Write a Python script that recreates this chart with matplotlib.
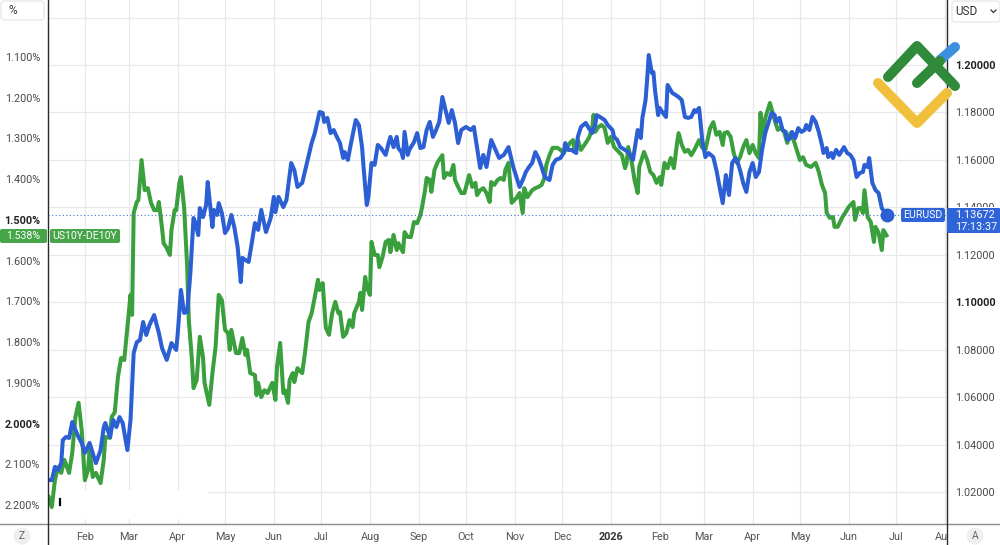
import matplotlib
matplotlib.use('Agg')
import numpy as np
import pandas as pd
import matplotlib.pyplot as plt
from matplotlib.patches import FancyBboxPatch, Ellipse, Rectangle
from matplotlib.lines import Line2D
from matplotlib.transforms import Bbox, TransformedBbox

plt.rcParams['font.family'] = ['Roboto', 'DejaVu Sans']

# ---- data ----
# days counted from 2025-01-01
eur_days = [8, 10, 12, 14, 16, 17, 19, 21, 23, 25, 27, 29, 31, 34, 36, 38, 41, 43, 44, 47,
            49, 51, 53, 55, 58, 60, 62, 64, 66, 68, 70, 72, 75, 78, 80, 83, 86, 89, 90, 92,
            94, 96, 98, 100, 101, 103, 104, 106, 108, 109, 112, 113, 115, 116, 118, 120, 122, 124, 126, 128,
            130, 131, 133, 135, 137, 139, 141, 143, 146, 149,
            151, 152, 154, 157, 159, 162, 164, 166, 169, 172, 175, 177, 180, 182, 183, 185, 187, 189, 191, 193,
            195, 196, 198, 200, 203, 205, 207, 208, 210, 211, 213, 215, 217, 219, 222, 224, 225, 227, 229, 230,
            232, 233, 234, 236, 237, 240, 242, 244, 246, 248, 250, 252, 254, 256, 258, 260, 262, 264, 266, 268,
            270, 273, 276, 278, 280, 282, 284, 286, 289, 291, 294,
            297, 300, 303, 305, 307, 309, 311, 313, 315, 317, 319, 321, 323, 326, 328, 330, 333, 335, 336, 338,
            340, 343, 344, 346, 349, 351, 353, 355, 356, 359, 361, 363, 366, 367, 369, 371, 374, 376, 378, 379,
            381, 382, 384, 385, 387, 388, 389, 391, 392, 393, 395, 396, 398, 400, 401, 404, 406, 408, 410, 412,
            414, 416, 418, 419, 421,
            423, 425, 427, 430, 432, 434, 436, 438, 440, 442, 444, 445, 447, 449, 451, 453, 455, 457, 459, 461,
            463, 465, 467, 469, 470, 472, 474, 476, 477, 479, 480, 482, 484, 486, 488, 489, 491, 493, 495, 497,
            499, 500, 502, 503, 505, 506, 508, 510, 513, 515, 517, 519, 521, 523, 525, 526, 528, 529, 531, 533,
            535, 537, 540]
eurusd = [1.0251, 1.0250, 1.0306, 1.0293, 1.0322, 1.0419, 1.0432, 1.0428, 1.0495, 1.0462,
          1.0432, 1.0407, 1.0365, 1.0407, 1.0365, 1.0322, 1.0377, 1.0474, 1.0491, 1.0432,
          1.0504, 1.0474, 1.0516, 1.0491, 1.0377, 1.0504, 1.0786, 1.0832, 1.0841, 1.0917,
          1.0862, 1.0904, 1.0946, 1.0870, 1.0807, 1.0757, 1.0828, 1.0799, 1.0870, 1.1052,
          1.0955, 1.0959, 1.1123, 1.1355, 1.1338, 1.1283, 1.1397, 1.1359, 1.1410, 1.1507,
          1.1317, 1.1389, 1.1368, 1.1418, 1.1376, 1.1292, 1.1313, 1.1368, 1.1313, 1.1233,
          1.1085, 1.1187, 1.1178, 1.1170, 1.1250, 1.1334, 1.1305, 1.1389, 1.1296, 1.1355,
          1.1444, 1.1380, 1.1444, 1.1401, 1.1431, 1.1587, 1.1557, 1.1486, 1.1503, 1.1587,
          1.1671, 1.1713, 1.1802, 1.1798, 1.1760, 1.1777, 1.1713, 1.1726, 1.1697, 1.1671,
          1.1608, 1.1633, 1.1600, 1.1671, 1.1768, 1.1747, 1.1654, 1.1566, 1.1410, 1.1444,
          1.1587, 1.1579, 1.1663, 1.1650, 1.1621, 1.1675, 1.1697, 1.1654, 1.1697, 1.1650,
          1.1633, 1.1608, 1.1718, 1.1621, 1.1642, 1.1675, 1.1713, 1.1650, 1.1654, 1.1726,
          1.1760, 1.1697, 1.1726, 1.1760, 1.1865, 1.1810, 1.1756, 1.1810, 1.1756, 1.1671,
          1.1726, 1.1739, 1.1726, 1.1739, 1.1654, 1.1566, 1.1621, 1.1570, 1.1684, 1.1654,
          1.1608,
          1.1621, 1.1654, 1.1570, 1.1528, 1.1486, 1.1515, 1.1549, 1.1570, 1.1587, 1.1633,
          1.1608, 1.1570, 1.1528, 1.1515, 1.1579, 1.1600, 1.1608, 1.1629, 1.1671, 1.1642,
          1.1642, 1.1629, 1.1697, 1.1739, 1.1756, 1.1734, 1.1713, 1.1747, 1.1789, 1.1777,
          1.1768, 1.1747, 1.1726, 1.1697, 1.1684, 1.1654, 1.1642, 1.1633, 1.1612, 1.1600,
          1.1684, 1.1726, 1.1692, 1.1777, 1.1852, 1.1937, 1.2042, 1.1966, 1.1970, 1.1895,
          1.1789, 1.1819, 1.1798, 1.1781, 1.1916, 1.1882, 1.1874, 1.1865, 1.1852, 1.1781,
          1.1777, 1.1781, 1.1810, 1.1802, 1.1819,
          1.1684, 1.1612, 1.1629, 1.1612, 1.1557, 1.1486, 1.1418, 1.1536, 1.1452, 1.1587,
          1.1608, 1.1600, 1.1557, 1.1503, 1.1465, 1.1549, 1.1587, 1.1528, 1.1549, 1.1642,
          1.1713, 1.1756, 1.1798, 1.1789, 1.1760, 1.1777, 1.1726, 1.1718, 1.1684, 1.1692,
          1.1718, 1.1692, 1.1734, 1.1718, 1.1726, 1.1747, 1.1726, 1.1781, 1.1760, 1.1718,
          1.1663, 1.1629, 1.1650, 1.1612, 1.1629, 1.1608, 1.1642, 1.1621, 1.1654, 1.1629,
          1.1621, 1.1600, 1.1528, 1.1545, 1.1549, 1.1579, 1.1570, 1.1608, 1.1503, 1.1473,
          1.1460, 1.1397, 1.13672]

spr_days = [8, 10, 12, 14, 16, 18, 21, 23, 25, 27, 29, 31, 33, 34, 36, 38, 41, 43, 44, 47,
            48, 50, 52, 54, 56, 58, 60, 61, 62, 64, 65, 67, 69, 71, 73, 75, 77, 78, 80, 81,
            83, 85, 86, 88, 89, 91, 92, 94, 96, 97, 99, 100, 102, 104, 106, 107, 110, 112, 114, 116,
            118, 120, 122, 123, 124, 127, 129, 131, 133, 134, 136, 139, 140, 141, 143, 145, 147, 150, 152, 153,
            155, 157, 158, 160, 161, 163, 164, 166, 169, 171, 173, 175, 177, 179, 180, 182, 184, 186, 188, 190,
            192, 193, 195, 197, 199, 201, 202, 205, 206, 207, 209, 210, 212, 213, 215, 217, 218, 220, 222, 224,
            225, 227, 229, 230, 233, 234, 236, 238, 240, 242, 244, 245, 247, 248, 250, 251, 253, 255, 258, 259,
            261, 263, 265, 266, 268, 270, 272, 275, 277, 279, 280, 282, 284, 286, 288, 289, 291, 293, 295,
            297, 298, 300, 302, 305, 307, 309, 310, 312, 315, 317, 319, 321, 323, 324, 326, 328, 331, 333, 335,
            337, 339, 341, 342, 344, 346, 349, 351, 353, 354, 355, 357, 359, 361, 363, 365, 367, 370, 372, 374,
            375, 376, 378, 380, 382, 383, 386, 388, 390, 392, 394, 396, 397, 399, 401, 403, 405, 407, 408, 410,
            412, 414, 416, 418, 421,
            423, 425, 428, 430, 432, 434, 436, 437, 439, 441, 443, 445, 447, 449, 451, 453, 455, 457, 459, 460,
            461, 463, 465, 466, 469, 471, 473, 475, 477, 479, 481, 483, 485, 487, 489, 492, 495, 497, 499, 501,
            502, 504, 506, 507, 509, 512, 514, 516, 519, 520, 522, 524, 525, 526, 528, 530, 532, 533, 535, 537,
            538, 540]
spread = [2.180, 2.205, 2.139, 2.107, 2.121, 2.089, 2.121, 2.072, 1.984, 1.949,
          2.016, 2.139, 2.114, 2.065, 2.131, 2.121, 2.146, 2.089, 2.033, 2.035,
          1.984, 1.972, 1.886, 1.839, 1.844, 1.763, 1.684, 1.733, 1.483, 1.456,
          1.451, 1.353, 1.427, 1.422, 1.458, 1.476, 1.476, 1.456, 1.520, 1.557,
          1.569, 1.586, 1.525, 1.476, 1.476, 1.409, 1.395, 1.468, 1.616, 1.746,
          1.844, 1.913, 1.893, 1.787, 1.837, 1.900, 1.954, 1.876, 1.812, 1.684,
          1.697, 1.770, 1.778, 1.819, 1.770, 1.827, 1.827, 1.790, 1.832, 1.819,
          1.876, 1.881, 1.930, 1.900, 1.935, 1.918, 1.925, 1.900, 1.942, 1.861,
          1.802, 1.925, 1.918, 1.949, 1.893, 1.876, 1.898, 1.864, 1.876, 1.819,
          1.751, 1.729, 1.689, 1.647, 1.672, 1.655, 1.765, 1.782, 1.729, 1.701,
          1.729, 1.726, 1.787, 1.778, 1.746, 1.763, 1.729, 1.701, 1.679, 1.721,
          1.640, 1.665, 1.684, 1.554, 1.586, 1.586, 1.616, 1.591, 1.554, 1.549,
          1.579, 1.537, 1.574, 1.557, 1.579, 1.530, 1.542, 1.542, 1.505, 1.508,
          1.488, 1.471, 1.427, 1.397, 1.402, 1.431, 1.377, 1.358, 1.341, 1.397,
          1.385, 1.390, 1.365, 1.402, 1.419, 1.434, 1.434, 1.390, 1.419, 1.409,
          1.439, 1.427, 1.422, 1.434, 1.456, 1.407, 1.414, 1.402, 1.397,
          1.402, 1.377, 1.360, 1.458, 1.446, 1.434, 1.483, 1.422, 1.444, 1.427,
          1.422, 1.419, 1.414, 1.395, 1.365, 1.341, 1.323, 1.323, 1.328, 1.336,
          1.323, 1.311, 1.304, 1.333, 1.304, 1.328, 1.311, 1.299, 1.279, 1.242,
          1.284, 1.272, 1.267, 1.274, 1.311, 1.296, 1.321, 1.333, 1.341, 1.373,
          1.360, 1.321, 1.353, 1.402, 1.434, 1.370, 1.333, 1.353, 1.382, 1.390,
          1.409, 1.395, 1.414, 1.360, 1.373, 1.348, 1.373, 1.311, 1.287, 1.316,
          1.333, 1.328, 1.341, 1.328, 1.304,
          1.323, 1.328, 1.275, 1.260, 1.291, 1.284, 1.316, 1.287, 1.284, 1.296,
          1.336, 1.360, 1.346, 1.321, 1.304, 1.336, 1.316, 1.336, 1.348, 1.237,
          1.296, 1.250, 1.225, 1.213, 1.255, 1.279, 1.274, 1.284, 1.311, 1.287,
          1.304, 1.328, 1.353, 1.346, 1.365, 1.370, 1.360, 1.382, 1.414, 1.434,
          1.483, 1.495, 1.493, 1.517, 1.517, 1.493, 1.481, 1.468, 1.456, 1.500,
          1.471, 1.471, 1.483, 1.427, 1.493, 1.505, 1.554, 1.517, 1.532, 1.574,
          1.525, 1.538]

eur_ticks = [1.02, 1.04, 1.06, 1.08, 1.10, 1.12, 1.14, 1.16, 1.18, 1.20, 1.22]
spr_ticks = [1.1, 1.2, 1.3, 1.4, 1.5, 1.6, 1.7, 1.8, 1.9, 2.0, 2.1, 2.2]
month_labels = ['Feb', 'Mar', 'Apr', 'May', 'Jun', 'Jul', 'Aug', 'Sep', 'Oct', 'Nov', 'Dec',
                '2026', 'Feb', 'Mar', 'Apr', 'May', 'Jun', 'Jul', 'Aug']
last_eur = 1.13672
last_spr = 1.538

t0 = pd.Timestamp('2025-01-01')
eur_dates = t0 + pd.to_timedelta(eur_days, unit='D')
spr_dates = t0 + pd.to_timedelta(spr_days, unit='D')
months = pd.date_range('2025-02-01', '2026-08-01', freq='MS')

BLUE = '#2b5fd3'
GREEN = '#3a9f3d'
W, H = 1000, 545


def fx(x):
    return x / W


def fy(y):
    return 1 - y / H


fig = plt.figure(figsize=(10, 5.45), dpi=100)
ax = fig.add_axes([fx(48), fy(524), (947 - 48) / W, 524 / H])
ax2 = ax.twinx()
ax3 = ax.twinx()

xmin = t0 + pd.Timedelta(days=7.6)
xmax = t0 + pd.Timedelta(days=578.4)
ax.set_xlim(xmin, xmax)
ax.set_ylim(1.00653, 1.2274)
ax2.set_ylim(2.2465, 0.9601)
ax3.set_ylim(1.00653, 1.2274)

# grid + right axis (EURUSD)
ax.yaxis.tick_right()
ax.set_yticks(eur_ticks, ['' if v > 1.21 else f'{v:.5f}' for v in eur_ticks])
ax.set_xticks(months, month_labels)
ax.grid(True, color='#e8e8e8', lw=0.9)
ax.tick_params(axis='y', length=0, pad=5.6, labelsize=7.8, labelcolor='#4a4a4a')
ax.tick_params(axis='x', length=0, pad=6, labelsize=7.8, labelcolor='#555555')
for t in ax.get_yticklabels():
    if t.get_text() in ('1.20000', '1.10000'):
        t.set_fontweight('bold')
        t.set_color('#222222')
    if t.get_text() == '1.14000':
        # mostly hidden behind the price tag
        t.set_clip_box(TransformedBbox(Bbox.from_extents(0, fy(207), 1, 1), fig.transFigure))
        t.set_clip_on(True)
for t in ax.get_xticklabels():
    if t.get_text() == '2026':
        t.set_fontweight('bold')
        t.set_color('#333333')
aug = ax.get_xticklabels()[-1]
aug.set_clip_box(TransformedBbox(Bbox.from_extents(0, 0, fx(947), 1), fig.transFigure))
aug.set_clip_on(True)

# white patch in lower left
ax.add_patch(Rectangle((fx(48), fy(519)), (208 - 48) / W, 29 / H, transform=fig.transFigure,
                       facecolor='white', edgecolor='none', zorder=1.8))

# left axis (spread)
ax2.yaxis.tick_left()
ax2.set_yticks(spr_ticks, [f'{v:.3f}%' for v in spr_ticks])
ax2.tick_params(axis='y', length=0, pad=5.6, labelsize=7.8, labelcolor='#4a4a4a')
for t in ax2.get_yticklabels():
    if t.get_text() in ('1.500%', '2.000%'):
        t.set_fontweight('bold')
        t.set_color('#222222')
ax2.plot(spr_dates, spread, color=GREEN, lw=2.9, solid_joinstyle='round')

ax3.set_yticks([])
ax3.axhline(last_eur, color='#4a72d6', lw=0.8, ls=(0, (1, 2.2)))
ax3.plot(eur_dates, eurusd, color=BLUE, lw=2.9, solid_joinstyle='round')
ax3.plot(eur_dates[-1], eurusd[-1], 'o', color=BLUE, ms=9)

for a in (ax, ax2, ax3):
    for s in a.spines.values():
        s.set_visible(False)

# frame lines
fig.add_artist(Line2D([0, 1], [fy(524)] * 2, color='#8c8c8c', lw=1.0, transform=fig.transFigure))
fig.add_artist(Line2D([fx(48)] * 2, [0, 1], color='#2a2a2a', lw=1.0, transform=fig.transFigure))
fig.add_artist(Line2D([fx(947)] * 2, [0, 1], color='#2a2a2a', lw=1.0, transform=fig.transFigure))


def box(x0, y0, x1, y1, fc, ec='none', r=2):
    p = FancyBboxPatch((fx(x0), fy(y1)), (x1 - x0) / W, (y1 - y0) / H,
                       boxstyle=f'round,pad=0,rounding_size={r / W}', mutation_aspect=W / H,
                       facecolor=fc, edgecolor=ec, lw=0.8, transform=fig.transFigure, zorder=4)
    fig.add_artist(p)


# top corner selectors
box(1, 1, 44, 20, 'white', '#e3e3e3', 3)
fig.text(fx(8), fy(11), '%', fontsize=8.5, color='#333333', va='center', zorder=5)
box(952, 1, 1000, 22, 'white', '#e3e3e3', 3)
fig.text(fx(955), fy(11.5), 'USD', fontsize=8.5, color='#333333', va='center', zorder=5)
fig.add_artist(Line2D([fx(991), fx(993.5), fx(996)], [fy(10), fy(12.5), fy(10)], color='#333333',
                      lw=0.9, transform=fig.transFigure, zorder=5))

# series labels
box(0, 229, 47, 243, '#45a548')
fig.text(fx(23.5), fy(236), f'{last_spr:.3f}%', fontsize=7.6, color='white', ha='center', va='center', zorder=5)
box(50, 229, 120, 243, '#45a548')
fig.text(fx(85), fy(236), 'US10Y-DE10Y', fontsize=7.6, color='white', ha='center', va='center', zorder=5)
box(901, 208, 945, 222, '#2f63d8')
fig.text(fx(923), fy(215), 'EURUSD', fontsize=7.6, color='white', ha='center', va='center', zorder=5)
box(947, 208, 1000, 233, '#2f63d8', r=1)
fig.text(fx(955), fy(215), f'{last_eur:.5f}', fontsize=7.8, color='white', va='center', zorder=5)
fig.text(fx(955), fy(227), '17:13:37', fontsize=7.8, color='white', va='center', zorder=5)

# small cursor mark
fig.add_artist(Line2D([fx(59.5)] * 2, [fy(499), fy(505)], color='black', lw=1.6, transform=fig.transFigure))

# Z / A buttons
for cx, s in ((22, 'Z'), (975, 'A')):
    fig.add_artist(Ellipse((fx(cx), fy(536)), 17 / W, 17 / H, transform=fig.transFigure,
                           facecolor='#efefef', edgecolor='none', zorder=4))
    fig.text(fx(cx), fy(536), s, fontsize=7.4, color='#666666', ha='center', va='center', zorder=5)


# logo
def stroke(xs, ys, c):
    fig.add_artist(Line2D([fx(v) for v in xs], [fy(v) for v in ys], color=c, lw=7.2,
                          solid_capstyle='round', solid_joinstyle='round', transform=fig.transFigure, zorder=6))


stroke([878, 917, 947], [83, 123, 93], '#f0c03c')
stroke([940, 955], [60, 47], '#3d8fe0')
stroke([888, 917, 955], [77, 46, 86], '#2f8a3a')
stroke([917, 940], [83, 61], '#2f8a3a')

fig.savefig('out.png', dpi=100)
